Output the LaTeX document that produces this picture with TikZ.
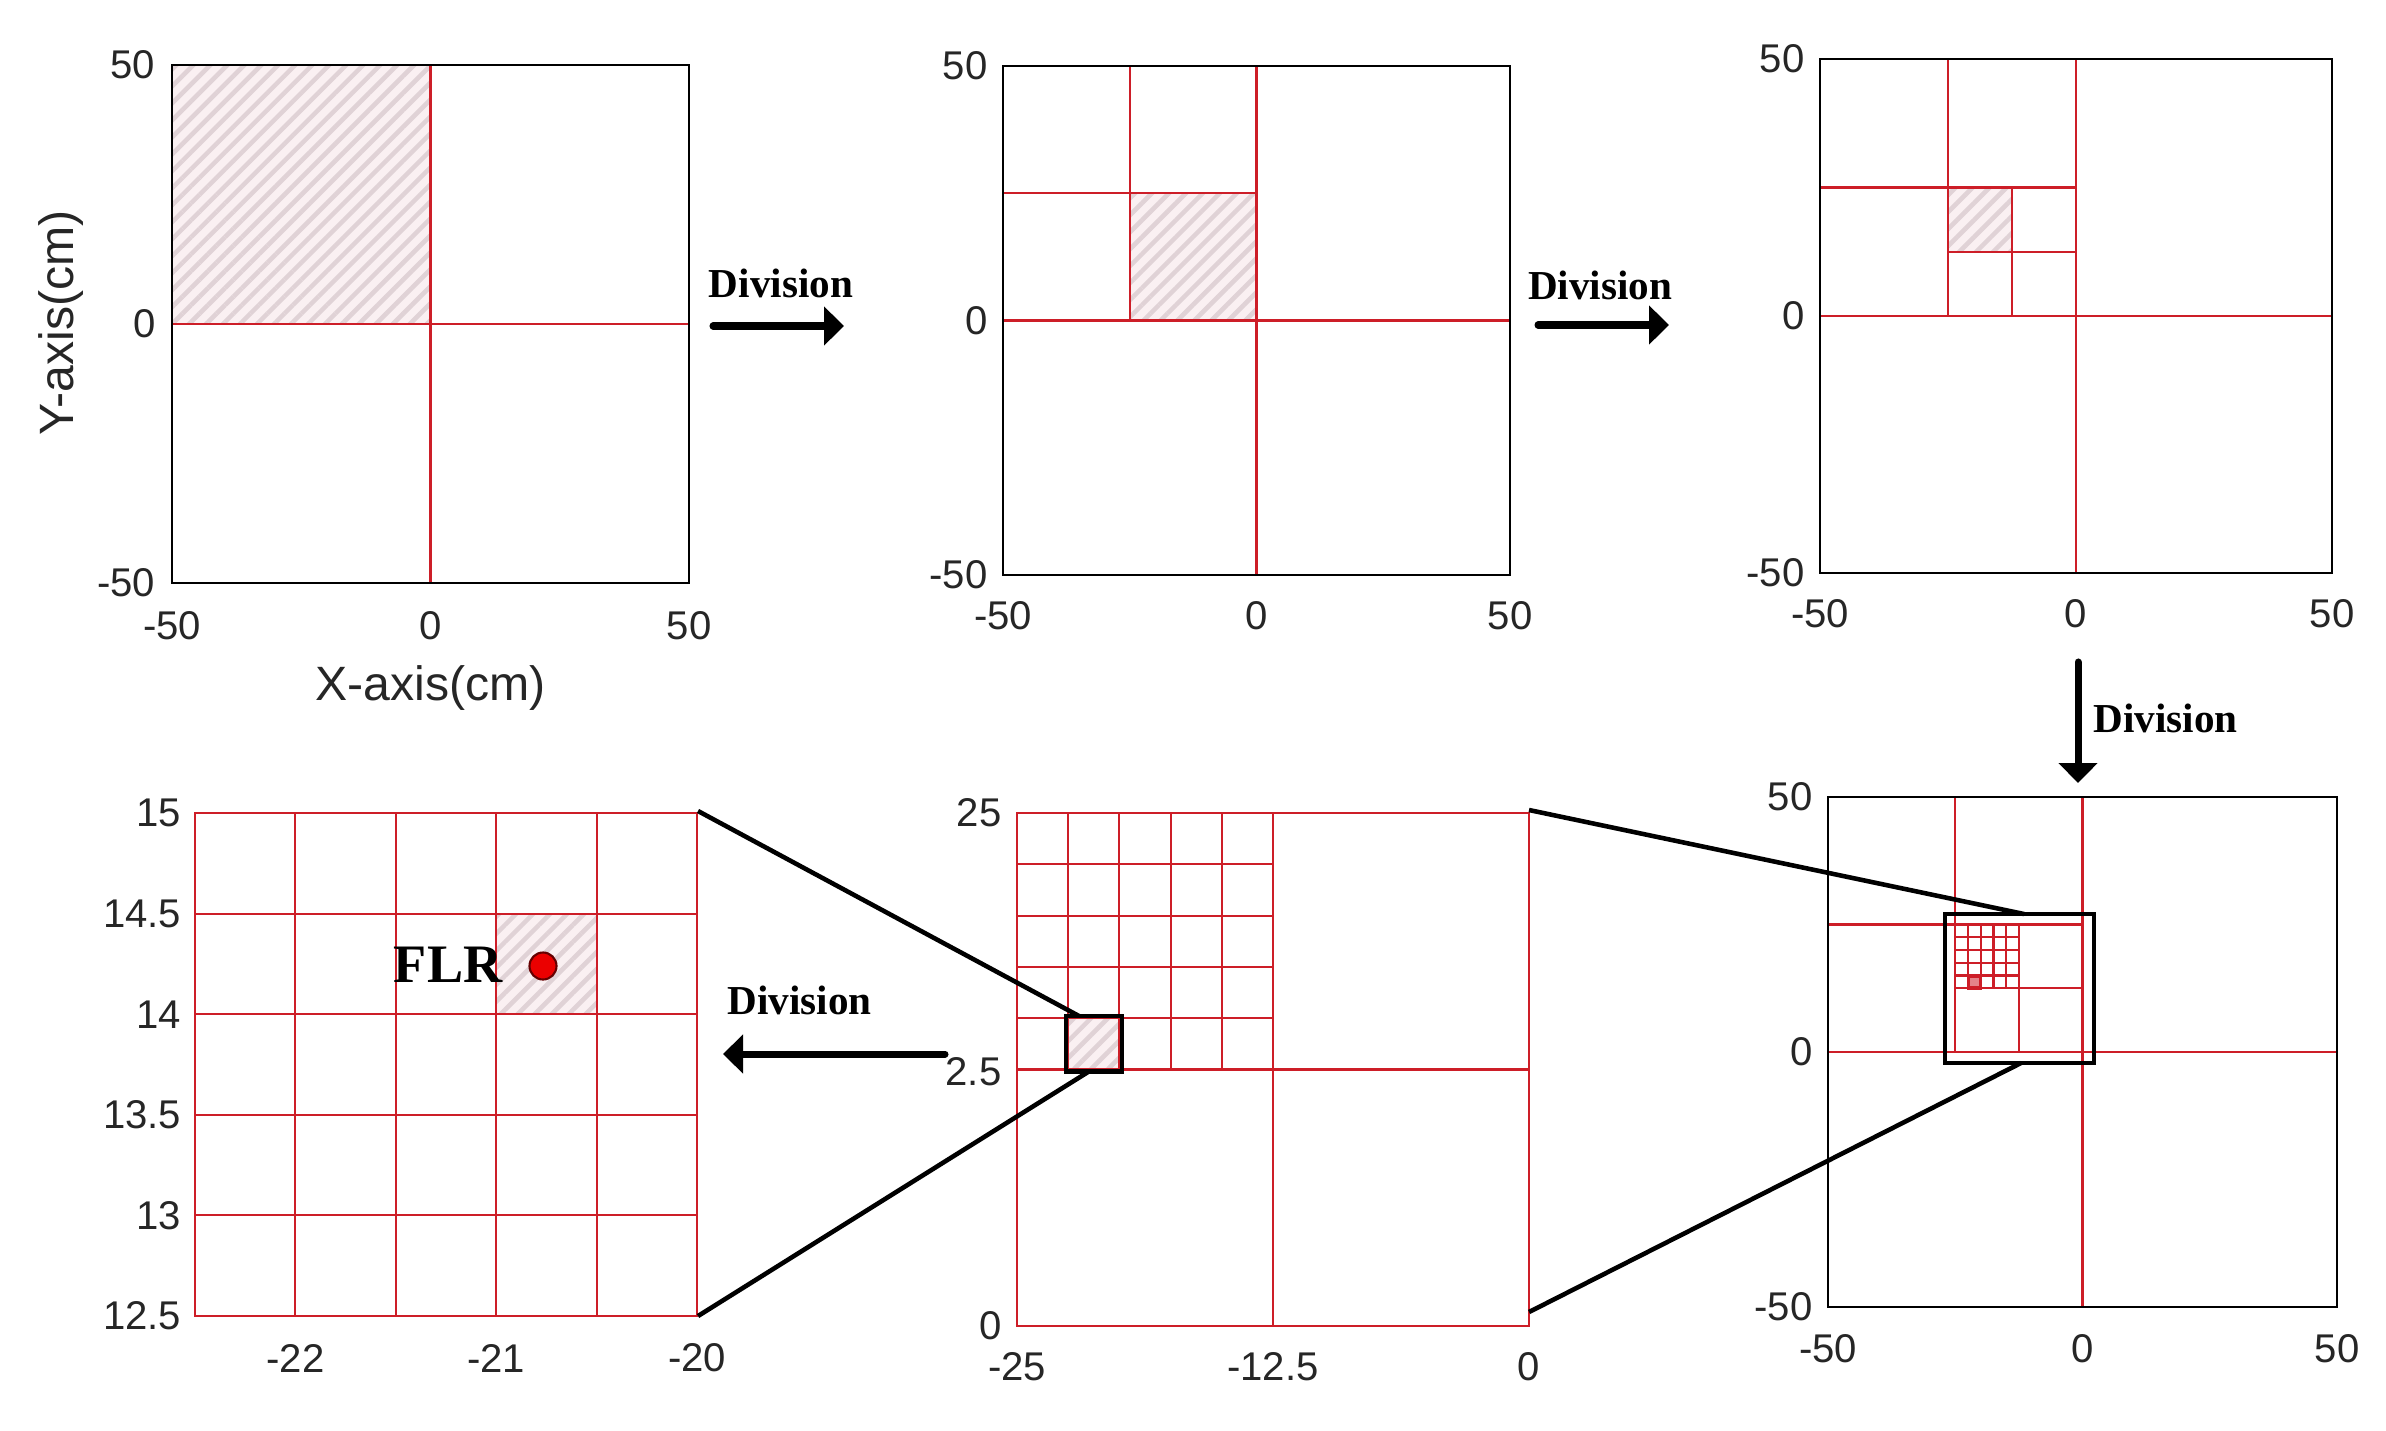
\documentclass[tikz,border=0pt]{standalone}
\usepackage{fontspec}
\setmainfont{Liberation Serif}
\setsansfont{Liberation Sans}
\usetikzlibrary{arrows.meta,patterns.meta}
\definecolor{gridred}{RGB}{205,30,40}
\definecolor{hatchbg}{RGB}{250,240,242}
\definecolor{hatchfg}{RGB}{224,210,214}
\definecolor{dotred}{RGB}{235,0,0}
\begin{document}
\begin{tikzpicture}[x=0.01cm,y=-0.01cm,
  pframe/.style={draw=black,line width=0.7pt},
  rframe/.style={draw=gridred,line width=0.7pt},
  gline/.style={draw=gridred,line width=0.6pt},
  hatched/.style={fill=hatchbg,postaction={pattern={Lines[angle=45,distance=0.12cm,line width=0.045cm]},pattern color=hatchfg}},
  ticklbl/.style={font=\sffamily\fontsize{11.4}{12}\selectfont,inner sep=0pt,text=black!85},
  ytick/.style={ticklbl,anchor=east},
  xtick/.style={ticklbl,anchor=center},
  axlabel/.style={font=\sffamily\fontsize{13.7}{15}\selectfont,inner sep=0pt,text=black!85},
  divlabel/.style={font=\bfseries\fontsize{11.7}{13}\selectfont,inner sep=0pt},
  divarrow/.style={line width=2pt,line cap=round,-{Triangle[length=0.2cm,width=0.38cm]}},
  zoomline/.style={line width=1.3pt},
  zoombox/.style={draw=black,line width=1.15pt},
]
\path[use as bounding box,fill=white] (0,0) rectangle (2386,1430);

% ---------------- Panel 1 ----------------
\path[hatched] (172,65) rectangle (430.5,324);
\draw[gline] (430.5,65) -- (430.5,583) (172,324) -- (689,324);
\draw[pframe] (172,65) rectangle (689,583);
\node[ytick] (p1y1) at (156,65) {50};
\node[ytick] (p1y2) at (156,324) {0};
\node[ytick] (p1y3) at (156,583) {-50};
\node[xtick] (p1x1) at (172,626) {-50};
\node[xtick] (p1x2) at (430.5,626) {0};
\node[xtick] (p1x3) at (689,626) {50};
\node[axlabel] (xlab) at (430.5,688) {X-axis(cm)};
\node[axlabel,rotate=90] (ylab) at (61,323) {Y-axis(cm)};

% ---------------- Panel 2 ----------------
\path[hatched] (1130,193) rectangle (1256.5,320.5);
\draw[gline] (1256.5,66) -- (1256.5,575) (1003,320.5) -- (1510,320.5)
  (1130,66) -- (1130,320.5) (1003,193) -- (1256.5,193);
\draw[pframe] (1003,66) rectangle (1510,575);
\node[ytick] (p2y1) at (988,66) {50};
\node[ytick] (p2y2) at (988,320.5) {0};
\node[ytick] (p2y3) at (988,575) {-50};
\node[xtick] (p2x1) at (1003,616) {-50};
\node[xtick] (p2x2) at (1256.5,616) {0};
\node[xtick] (p2x3) at (1510,616) {50};

% ---------------- Panel 3 ----------------
\path[hatched] (1948,187.5) rectangle (2012,251.75);
\draw[gline] (2076,59) -- (2076,573) (1820,316) -- (2332,316)
  (1948,59) -- (1948,316) (1820,187.5) -- (2076,187.5)
  (2012,187.5) -- (2012,316) (1948,251.75) -- (2076,251.75);
\draw[pframe] (1820,59) rectangle (2332,573);
\node[ytick] (p3y1) at (1805,59) {50};
\node[ytick] (p3y2) at (1805,316) {0};
\node[ytick] (p3y3) at (1805,573) {-50};
\node[xtick] (p3x1) at (1820,614) {-50};
\node[xtick] (p3x2) at (2076,614) {0};
\node[xtick] (p3x3) at (2332,614) {50};

% ---------------- Panel 4 ----------------
\draw[gline] (2082.5,797) -- (2082.5,1307) (1828,1052) -- (2337,1052)
  (1955.25,797) -- (1955.25,1052) (1828,924.5) -- (2082.5,924.5)
  (2018.9,924.5) -- (2018.9,1052) (1955.25,988.25) -- (2082.5,988.25);
\foreach \k in {1,...,4}{
  \draw[gline] ({1955.25+\k*12.73},924.5) -- ({1955.25+\k*12.73},988.25);
  \draw[gline] (1955.25,{924.5+\k*12.75}) -- (2018.9,{924.5+\k*12.75});
}
\draw[draw=gridred,fill=gridred!55,line width=1.1pt] (1968.5,976) rectangle (1980.5,988);
\draw[pframe] (1828,797) rectangle (2337,1307);
\draw[zoombox] (1945,914) rectangle (2094,1063);
\node[ytick] (p4y1) at (1813,797) {50};
\node[ytick] (p4y2) at (1813,1052) {0};
\node[ytick] (p4y3) at (1813,1307) {-50};
\node[xtick] (p4x1) at (1828,1349) {-50};
\node[xtick] (p4x2) at (2082.5,1349) {0};
\node[xtick] (p4x3) at (2337,1349) {50};

% ---------------- Panel 5 ----------------
\path[hatched] (1068.2,1018.2) rectangle (1119.4,1069.5);
\draw[gline] (1273,813) -- (1273,1326) (1017,1069.5) -- (1529,1069.5);
\foreach \k in {1,...,4}{
  \draw[gline] ({1017+\k*51.2},813) -- ({1017+\k*51.2},1069.5);
  \draw[gline] (1017,{813+\k*51.3}) -- (1273,{813+\k*51.3});
}
\draw[rframe] (1017,813) rectangle (1529,1326);
\draw[zoombox] (1066,1016) rectangle (1122,1071.5);
\node[ytick] (p5y1) at (1002,813) {25};
\node[ytick] (p5y2) at (1002,1072) {2.5};
\node[ytick] (p5y3) at (1002,1326) {0};
\node[xtick] (p5x1) at (1017,1367) {-25};
\node[xtick] (p5x2) at (1273,1367) {-12.5};
\node[xtick] (p5x3) at (1529,1367) {0};

% ---------------- Panel 6 ----------------
\path[hatched] (496.2,913.6) rectangle (596.6,1014.2);
\foreach \k in {1,...,4}{
  \draw[gline] ({195+\k*100.4},813) -- ({195+\k*100.4},1316);
  \draw[gline] (195,{813+\k*100.6}) -- (697,{813+\k*100.6});
}
\draw[rframe] (195,813) rectangle (697,1316);
\node[circle,fill=dotred,draw=black!60!red,line width=0.6pt,minimum size=0.27cm,inner sep=0pt] (flrdot) at (543,966) {};
\node[font=\bfseries\fontsize{15.4}{17}\selectfont,inner sep=0pt,anchor=base east] (flr) at (503,982) {FLR};
\node[ytick] (p6y1) at (182,813) {15};
\node[ytick] (p6y2) at (182,913.6) {14.5};
\node[ytick] (p6y3) at (182,1014.2) {14};
\node[ytick] (p6y4) at (182,1114.8) {13.5};
\node[ytick] (p6y5) at (182,1215.4) {13};
\node[ytick] (p6y6) at (182,1316) {12.5};
\node[xtick] (p6x1) at (295.4,1358) {-22};
\node[xtick] (p6x2) at (496.2,1358) {-21};
\node[xtick] (p6x3) at (697,1358) {-20};

% ---------------- Zoom connectors ----------------
\coordinate (z4u) at (2024,914);
\coordinate (z4l) at (2021,1063);
\coordinate (p5tr) at (1529,810);
\coordinate (p5br) at (1529,1312);
\coordinate (z5u) at (1079,1016);
\coordinate (z5l) at (1088,1072);
\coordinate (p6tr) at (698,811);
\coordinate (p6br) at (698,1316);
\draw[zoomline] (z4u) -- (p5tr);
\draw[zoomline] (z4l) -- (p5br);
\draw[zoomline] (z5u) -- (p6tr);
\draw[zoomline] (z5l) -- (p6br);

% ---------------- Division arrows ----------------
\coordinate (a1s) at (713,326);
\coordinate (a1e) at (844,326);
\coordinate (a2s) at (1538,325);
\coordinate (a2e) at (1669,325);
\coordinate (a3s) at (2078,662);
\coordinate (a3e) at (2078,783);
\coordinate (a4s) at (945,1054);
\coordinate (a4e) at (723,1054);
\draw[divarrow] (a1s) -- (a1e);
\draw[divarrow] (a2s) -- (a2e);
\draw[divarrow] (a3s) -- (a3e);
\draw[divarrow] (a4s) -- (a4e);
\node[divlabel,anchor=base] (d1) at (781,297) {Division};
\node[divlabel,anchor=base] (d2) at (1600,299) {Division};
\node[divlabel,anchor=base west] (d3) at (2093,732) {Division};
\node[divlabel,anchor=base] (d4) at (799.5,1014) {Division};
\end{tikzpicture}
\end{document}
